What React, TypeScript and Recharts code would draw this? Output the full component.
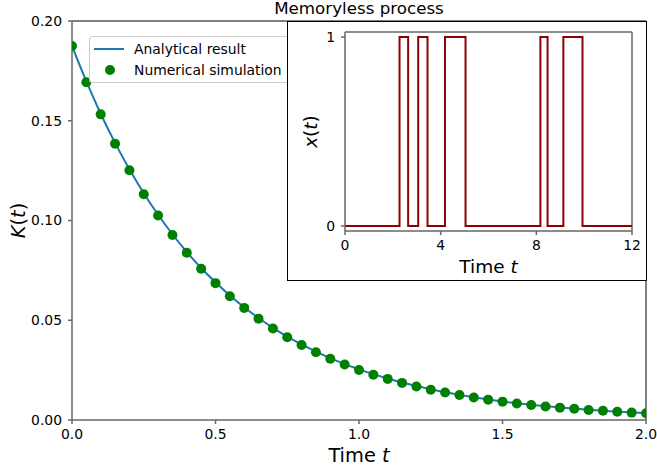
import React from 'react';
import {
  ComposedChart, LineChart, Line, Scatter, XAxis, YAxis, ReferenceLine, Legend
} from 'recharts';

// main plot: K(t) at steps of 0.05
const times = [
  0, 0.05, 0.1, 0.15, 0.2, 0.25, 0.3, 0.35, 0.4, 0.45, 0.5,
  0.55, 0.6, 0.65, 0.7, 0.75, 0.8, 0.85, 0.9, 0.95, 1.0,
  1.05, 1.1, 1.15, 1.2, 1.25, 1.3, 1.35, 1.4, 1.45, 1.5,
  1.55, 1.6, 1.65, 1.7, 1.75, 1.8, 1.85, 1.9, 1.95, 2.0,
];
const analytical = [
  0.1875, 0.1697, 0.1535, 0.1389, 0.1257, 0.1137, 0.1029, 0.0931, 0.0842, 0.0762, 0.0690,
  0.0624, 0.0565, 0.0511, 0.0462, 0.0418, 0.0379, 0.0343, 0.0310, 0.0280, 0.0254,
  0.0230, 0.0208, 0.0188, 0.0170, 0.0154, 0.0139, 0.0126, 0.0114, 0.0103, 0.0093,
  0.0084, 0.0076, 0.0069, 0.0063, 0.0057, 0.0051, 0.0046, 0.0042, 0.0038, 0.0034,
];
const simulated = [
  0.1875, 0.1693, 0.1532, 0.1385, 0.1252, 0.1132, 0.1025, 0.0927, 0.0838, 0.0758, 0.0686,
  0.0620, 0.0562, 0.0508, 0.0459, 0.0415, 0.0376, 0.0340, 0.0307, 0.0278, 0.0251,
  0.0227, 0.0206, 0.0186, 0.0168, 0.0152, 0.0138, 0.0125, 0.0113, 0.0102, 0.0092,
  0.0083, 0.0075, 0.0068, 0.0062, 0.0056, 0.0050, 0.0046, 0.0041, 0.0037, 0.0034,
];
const xTicks = [0, 0.5, 1.0, 1.5, 2.0];
const yTicks = [0, 0.05, 0.1, 0.15, 0.2];

// inset: two-state process, switch times and state after each switch
const switchTimes = [0, 2.28, 2.64, 3.06, 3.45, 4.18, 5.04, 8.17, 8.47, 9.13, 9.93, 12];
const states = [0, 1, 0, 1, 0, 1, 0, 1, 0, 1, 0, 0];
const insetXTicks = [0, 4, 8, 12];
const insetYTicks = [0, 1];

const FONT = '"DejaVu Sans", sans-serif';
const SPINE = '#666';
const LABEL_SIZE = 19.4;

const mainData = times.map((t, i) => ({ t, analytical: analytical[i], simulated: simulated[i] }));
const insetData = switchTimes.map((t, i) => ({ t, x: states[i] }));

const tickStyle = { fill: '#000', fontSize: 13.9, fontFamily: FONT };

function renderLegend() {
  return (
    <div style={{
      border: '1px solid #ccc', borderRadius: 3, background: 'rgba(255,255,255,0.8)',
      fontFamily: FONT, fontSize: 13.9, color: '#000', padding: '1px 6px 2px 4px',
    }}>
      <div style={{ display: 'flex', alignItems: 'center', height: 21 }}>
        <svg width={40} height={10}><line x1={0} x2={30} y1={5} y2={5} stroke="#1f77b4" strokeWidth={2} /></svg>
        <span>Analytical result</span>
      </div>
      <div style={{ display: 'flex', alignItems: 'center', height: 21 }}>
        <svg width={40} height={12}><circle cx={16} cy={6} r={5} fill="green" /></svg>
        <span>Numerical simulation</span>
      </div>
    </div>
  );
}

export default function App() {
  return (
    <div style={{ position: 'absolute', left: 0, top: 0, width: 657, height: 472, background: '#fff', fontFamily: FONT }}>
      <ComposedChart width={657} height={472} data={mainData} margin={{ top: 21, right: 11, bottom: 0, left: 0 }}>
        <XAxis
          dataKey="t" type="number" domain={[0, 2]} ticks={xTicks} allowDataOverflow
          tickFormatter={(v: number) => v.toFixed(1)} tick={tickStyle}
          stroke={SPINE} strokeWidth={1.5} tickSize={4} tickMargin={5} height={52}
          label={({ viewBox }: any) => (
            <text x={viewBox.x + viewBox.width / 2} y={viewBox.y + 42} textAnchor="middle" fontSize={LABEL_SIZE} fontFamily={FONT}>
              Time <tspan fontStyle="italic">t</tspan>
            </text>
          )}
        />
        <YAxis
          type="number" domain={[0, 0.2]} ticks={yTicks} allowDataOverflow
          tickFormatter={(v: number) => v.toFixed(2)} tick={tickStyle}
          stroke={SPINE} strokeWidth={1.5} tickSize={4} tickMargin={6} width={72}
          label={({ viewBox }: any) => {
            const cx = viewBox.x + 19;
            const cy = viewBox.y + viewBox.height / 2;
            return (
              <text x={cx} y={cy} transform={`rotate(-90 ${cx} ${cy})`} textAnchor="middle" dominantBaseline="middle" fontSize={LABEL_SIZE} fontFamily={FONT}>
                <tspan fontStyle="italic">K</tspan>(<tspan fontStyle="italic">t</tspan>)
              </text>
            );
          }}
        />
        <ReferenceLine
          y={0.2} stroke="#000" strokeWidth={1}
          label={{ value: 'Memoryless process', position: 'top', offset: 7, fill: '#000', fontSize: 16.7, fontFamily: FONT }}
        />
        <ReferenceLine x={2} stroke="#000" strokeWidth={1} />
        <Line dataKey="analytical" type="monotone" stroke="#1f77b4" strokeWidth={2} dot={false} isAnimationActive={false} />
        <Scatter dataKey="simulated" fill="green" shape={(p: any) => <circle cx={p.cx} cy={p.cy} r={5} fill="green" />} isAnimationActive={false} />
        <Legend
          layout="vertical" align="center" verticalAlign="middle"
          content={renderLegend}
          wrapperStyle={{ left: 89, top: 36, width: 'auto', height: 'auto' }}
        />
      </ComposedChart>

      <div style={{
        position: 'absolute', left: 287, top: 21, width: 360, height: 260,
        boxSizing: 'border-box', border: '1px solid #000', background: '#fff',
      }}>
        <LineChart width={358} height={258} data={insetData} margin={{ top: 10, right: 14, bottom: 0, left: 0 }}>
          <XAxis
            dataKey="t" type="number" domain={[0, 12]} ticks={insetXTicks} allowDataOverflow
            tick={tickStyle} stroke={SPINE} strokeWidth={1.5} tickSize={4} tickMargin={5} height={49}
            label={({ viewBox }: any) => (
              <text x={viewBox.x + viewBox.width / 2} y={viewBox.y + 42} textAnchor="middle" fontSize={18.5} fontFamily={FONT}>
                Time <tspan fontStyle="italic">t</tspan>
              </text>
            )}
          />
          <YAxis
            type="number" domain={[-0.0266, 1.0266]} ticks={insetYTicks} allowDataOverflow
            tick={tickStyle} stroke={SPINE} strokeWidth={1.5} tickSize={4} tickMargin={6} width={57}
            label={({ viewBox }: any) => {
              const cx = viewBox.x + 24;
              const cy = viewBox.y + viewBox.height / 2;
              return (
                <text x={cx} y={cy} transform={`rotate(-90 ${cx} ${cy})`} textAnchor="middle" dominantBaseline="middle" fontSize={18.5} fontFamily={FONT}>
                  <tspan fontStyle="italic">x</tspan>(<tspan fontStyle="italic">t</tspan>)
                </text>
              );
            }}
          />
          <ReferenceLine y={1.0266} stroke={SPINE} strokeWidth={1.5} />
          <ReferenceLine x={12} stroke={SPINE} strokeWidth={1.5} />
          <Line dataKey="x" type="stepAfter" stroke="#8b0000" strokeWidth={2} dot={false} isAnimationActive={false} />
        </LineChart>
      </div>
    </div>
  );
}
